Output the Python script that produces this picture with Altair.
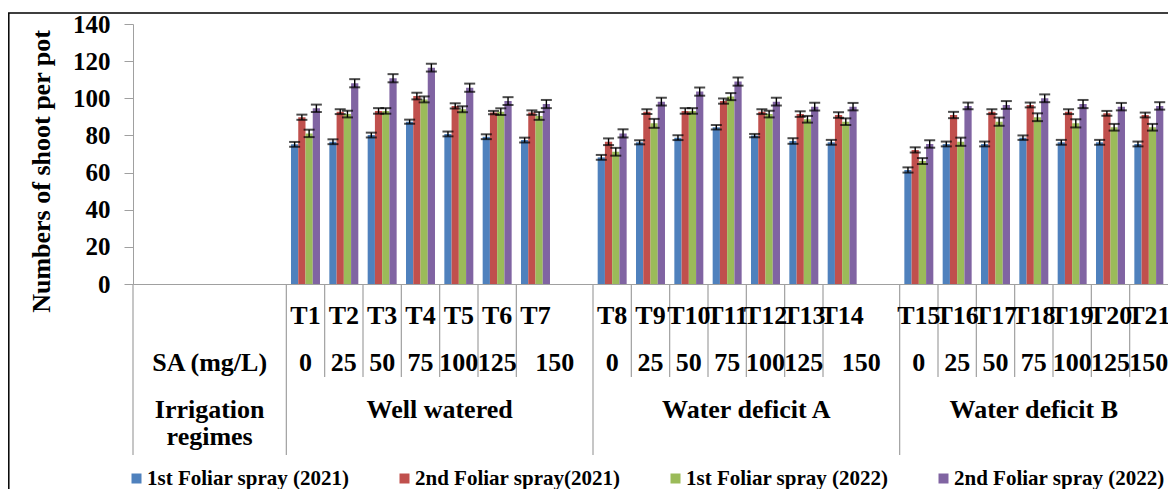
import altair as alt
import pandas as pd

# ---------------- data ----------------
treatments = [f"T{i}" for i in range(1, 22)]
series = ["1st Foliar spray (2021)", "2nd Foliar spray(2021)",
          "1st Foliar spray (2022)", "2nd Foliar spray (2022)"]
colors = ["#4F81BD", "#C0504D", "#9BBB59", "#8064A2"]

spray1_2021 = [75.2, 76.6, 80.2, 87.4, 80.8, 79.3, 77.5,
               68.2, 76.3, 78.8, 84.4, 79.9, 77.0, 76.3,
               61.4, 75.4, 75.4, 78.8, 76.3, 76.3, 75.4]
spray2_2021 = [89.8, 92.8, 93.2, 101.2, 95.9, 92.3, 92.3,
               76.6, 92.8, 93.2, 98.5, 92.8, 91.5, 91.0,
               72.2, 91.0, 92.8, 96.4, 92.8, 91.9, 91.0]
spray1_2022 = [81.1, 91.5, 93.2, 99.4, 94.1, 92.8, 90.5,
               71.2, 86.5, 93.2, 100.9, 91.5, 88.7, 87.4,
               66.2, 76.6, 87.4, 89.8, 86.5, 84.4, 84.4]
spray2_2022 = [94.6, 108.1, 110.8, 116.5, 105.7, 98.5, 96.9,
               81.1, 98.2, 103.6, 109.0, 98.2, 95.5, 95.5,
               75.4, 95.9, 96.4, 100.0, 96.9, 95.5, 95.9]

err1_2021 = [1.3, 1.3, 1.3, 1.1, 1.3, 1.3, 1.3, 1.3, 1.1, 1.3, 1.2, 0.9, 1.5, 1.3, 1.4, 1.3, 1.3, 1.2, 1.3, 1.3, 1.3]
err2_2021 = [1.4, 1.3, 1.5, 1.8, 1.4, 0.9, 1.2, 1.8, 1.3, 1.5, 1.4, 1.3, 1.5, 1.5, 1.4, 1.7, 1.3, 1.3, 1.3, 1.3, 1.3]
err1_2022 = [2.0, 1.8, 1.5, 1.6, 1.6, 1.8, 2.1, 2.1, 2.4, 1.5, 1.9, 1.8, 1.8, 1.8, 1.6, 2.2, 2.2, 2.1, 2.2, 1.8, 1.8]
err2_2022 = [2.0, 2.2, 2.2, 2.1, 2.2, 2.1, 2.2, 2.2, 2.1, 2.2, 2.2, 2.1, 2.1, 2.0, 2.0, 1.8, 2.1, 2.1, 2.2, 2.0, 2.0]

sa_levels = ["0", "25", "50", "75", "100", "125", "150"]
regimes = ["Well watered", "Water deficit A", "Water deficit B"]
y_ticks = [0, 20, 40, 60, 80, 100, 120, 140]

# category slots of the multi-level axis (blank slots b1..b6)
cats = ["b1", "b2", "b3", "b4"] + treatments[0:7] + ["b5"] + treatments[7:14] + ["b6"] + treatments[14:21]

values = [spray1_2021, spray2_2021, spray1_2022, spray2_2022]
errors = [err1_2021, err2_2021, err1_2022, err2_2022]

rows = []
for si, s in enumerate(series):
    for ti, t in enumerate(treatments):
        v = values[si][ti]
        e = errors[si][ti]
        rows.append(dict(cat=t, series=s, value=v, lo=v - e, hi=v + e))
df = pd.DataFrame(rows)

FONT = "Liberation Serif"
GRAY = "#a0a0a0"

W, H = 1035, 260

xscale = alt.Scale(domain=cats, paddingInner=0, paddingOuter=0)
xoff = alt.XOffset("series:N", sort=series,
                   scale=alt.Scale(domain=series, paddingInner=0, paddingOuter=0.645))
yscale = alt.Scale(domain=[0, 140], nice=False, zero=True)

yaxis = alt.Axis(values=y_ticks, grid=False, labelOverlap=False,
                 labelFlush=False, ticks=True,
                 domainColor=GRAY, tickColor=GRAY, tickSize=9, tickWidth=1,
                 labelFont=FONT, labelFontSize=25, labelFontWeight="bold",
                 labelColor="black", labelPadding=14,
                 title="Numbers of shoot per pot", titleFont=FONT,
                 titleFontSize=26, titleFontWeight="bold", titleColor="black",
                 titleAngle=-90, titleX=-92, titleY=147, titleAlign="center",
                 titleBaseline="middle")
xaxis = alt.Axis(labels=False, ticks=False, domain=True, domainColor=GRAY,
                 title=None, grid=False)


def X(bp=0.5):
    return alt.X("cat:N", scale=xscale, sort=cats, bandPosition=bp, axis=xaxis)


def Y(field):
    return alt.Y(field, scale=yscale, axis=yaxis)


bars = alt.Chart(df).mark_bar().encode(
    x=X(0.5),
    xOffset=xoff,
    y=Y("value:Q"),
    color=alt.Color("series:N", sort=series,
                    scale=alt.Scale(domain=series, range=colors),
                    legend=alt.Legend(orient="none", legendX=-7, legendY=444,
                                      direction="horizontal", columns=4,
                                      gridAlign="none",
                                      columnPadding=44, symbolType="square",
                                      symbolSize=100, symbolStrokeWidth=0,
                                      labelFont=FONT, labelFontSize=21,
                                      labelFontWeight="bold", labelColor="black",
                                      labelLimit=400, labelOffset=0, padding=0,
                                      title=None)),
)

err_rule = alt.Chart(df).mark_rule(color="black", strokeWidth=1.4).encode(
    x=X(), xOffset=xoff, y=Y("lo:Q"), y2="hi:Q")
cap_hi = alt.Chart(df).mark_tick(color="black", thickness=2, size=11).encode(
    x=X(), xOffset=xoff, y=Y("hi:Q"))
cap_lo = alt.Chart(df).mark_tick(color="black", thickness=2, size=11).encode(
    x=X(), xOffset=xoff, y=Y("lo:Q"))

# separator lines of the category axis
long_df = pd.DataFrame({"cat": ["b1", "T1", "T8", "T15"]})
short_df = pd.DataFrame({"cat": treatments[1:7] + treatments[8:14] + treatments[15:21]})
long_lines = alt.Chart(long_df).mark_rule(color=GRAY, strokeWidth=1.2).encode(
    x=X(0), y=alt.value(H), y2=alt.value(431))
short_lines = alt.Chart(short_df).mark_rule(color=GRAY, strokeWidth=1.2).encode(
    x=X(0), y=alt.value(H), y2=alt.value(353))

txt = dict(font=FONT, fontWeight="bold", color="black", align="center",
           baseline="alphabetic")

t_df = pd.DataFrame({"cat": treatments, "label": treatments})
t_labels = alt.Chart(t_df).mark_text(fontSize=26, **txt).encode(
    x=X(0.5), y=alt.value(300), text="label:N")

sa_mid_cats = treatments[0:6] + treatments[7:13] + treatments[14:21]
sa_mid_lab = sa_levels[0:6] + sa_levels[0:6] + sa_levels[0:7]
sa_mid = alt.Chart(pd.DataFrame({"cat": sa_mid_cats, "label": sa_mid_lab})).mark_text(
    fontSize=26, **txt).encode(x=X(0.5), y=alt.value(347), text="label:N")
sa_edge = alt.Chart(pd.DataFrame({"cat": ["b2", "T7", "T14"],
                                  "label": ["SA (mg/L)", sa_levels[6], sa_levels[6]]})).mark_text(
    fontSize=26, **txt).encode(x=X(1), y=alt.value(347), text="label:N")

grp_edge = alt.Chart(pd.DataFrame({"cat": ["b2", "T4", "T11"],
                                   "label": ["Irrigation", regimes[0], regimes[1]]})).mark_text(
    fontSize=26, **txt).encode(x=X(1), y=alt.value(394), text="label:N")
grp_mid = alt.Chart(pd.DataFrame({"cat": ["T18"], "label": [regimes[2]]})).mark_text(
    fontSize=26, **txt).encode(x=X(0.5), y=alt.value(394), text="label:N")
grp_2nd = alt.Chart(pd.DataFrame({"cat": ["b2"], "label": ["regimes"]})).mark_text(
    fontSize=26, **txt).encode(x=X(1), y=alt.value(421), text="label:N")

frame = alt.Chart(pd.DataFrame({"k": [0]})).mark_rect(
    fillOpacity=0, stroke="black", strokeWidth=1.5).encode(
    x=alt.value(-124.2), x2=alt.value(2000), y=alt.value(-11), y2=alt.value(900))

chart = alt.layer(
    bars, err_rule, cap_hi, cap_lo, long_lines, short_lines,
    t_labels, sa_mid, sa_edge, grp_edge, grp_mid, grp_2nd, frame
).properties(
    width=W, height=H,
    autosize=alt.AutoSizeParams(type="none"),
    padding={"left": 125, "top": 16, "right": 0, "bottom": 205},
    background="white",
).configure_view(stroke=None)

chart.save("out.html", embed_options={"renderer": "svg", "actions": False})
